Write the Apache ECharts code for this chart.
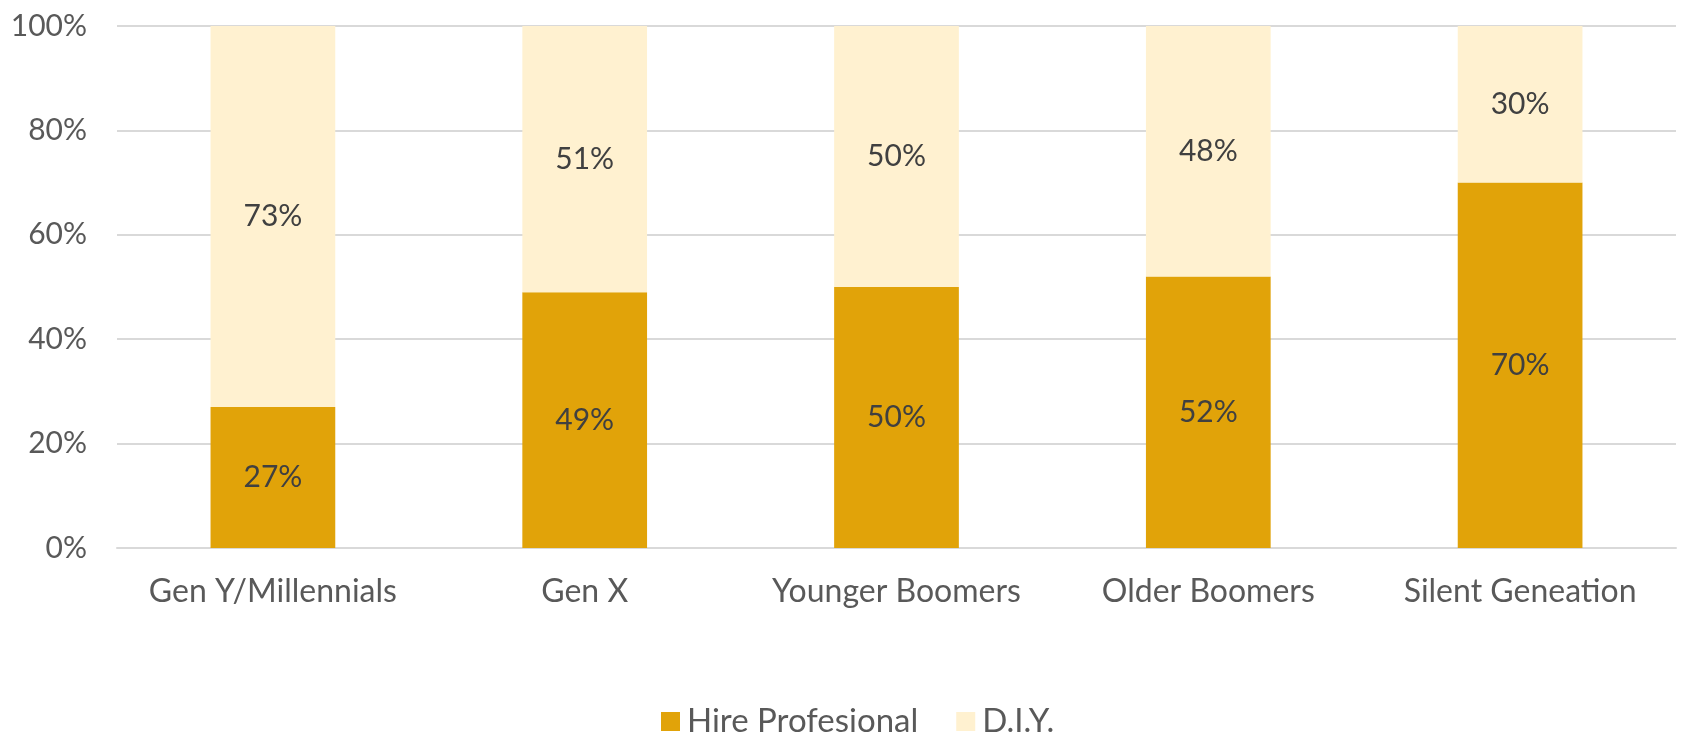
<!DOCTYPE html>
<html>
<head>
<meta charset="utf-8">
<script src="https://cdn.jsdelivr.net/npm/echarts@6/dist/echarts.min.js"></script>
<style>
  html, body { margin: 0; padding: 0; background: #fff; }
  #chart { width: 1681px; height: 736px; }
</style>
</head>
<body>
<div id="chart"></div>
<script>
const categories = ['Gen Y/Millennials', 'Gen X', 'Younger Boomers', 'Older Boomers', 'Silent Geneation']
const hireValues = [27, 49, 50, 52, 70]
const diyValues = [73, 51, 50, 48, 30]
const yTicks = [0, 20, 40, 60, 80, 100]

const font = 'Lato, "Open Sans", sans-serif'
const chart = echarts.init(document.getElementById('chart'))

const labelStyle = {
  show: true,
  position: 'inside',
  formatter: '{c}%',
  color: '#404040',
  fontSize: 30,
  fontFamily: font
}

chart.setOption({
  animation: false,
  grid: { left: 117, right: 5, top: 26, bottom: 188 },
  legend: {
    top: 700,
    left: 656,
    itemWidth: 19,
    itemHeight: 19,
    itemGap: 38,
    icon: 'rect',
    textStyle: { color: '#595959', fontSize: 33, fontFamily: font, padding: [0, 0, 0, 2] },
    data: ['Hire Profesional', 'D.I.Y.']
  },
  xAxis: {
    type: 'category',
    data: categories,
    axisTick: { show: false },
    axisLine: { lineStyle: { color: '#d9d9d9', width: 2 } },
    axisLabel: { interval: 0, color: '#595959', fontSize: 32, fontFamily: font, margin: 28 }
  },
  yAxis: {
    type: 'value',
    min: yTicks[0],
    max: yTicks[yTicks.length - 1],
    interval: 20,
    axisLabel: { formatter: '{value}%', color: '#595959', fontSize: 30, fontFamily: font, margin: 30 },
    splitLine: { lineStyle: { color: '#d9d9d9', width: 2 } },
    axisLine: { show: false },
    axisTick: { show: false }
  },
  series: [
    {
      name: 'Hire Profesional',
      type: 'bar',
      stack: 'total',
      barWidth: '40%',
      data: hireValues,
      itemStyle: { color: '#E1A309' },
      label: labelStyle
    },
    {
      name: 'D.I.Y.',
      type: 'bar',
      stack: 'total',
      barWidth: '40%',
      data: diyValues,
      itemStyle: { color: '#FFF1D0' },
      label: labelStyle
    }
  ]
})
</script>
</body>
</html>
